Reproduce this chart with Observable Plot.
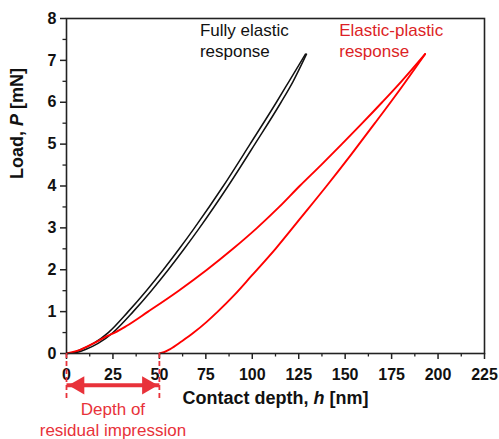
<!DOCTYPE html>
<html>
<head>
<meta charset="utf-8">
<script src="https://cdn.jsdelivr.net/npm/d3@7"></script>
<script src="https://cdn.jsdelivr.net/npm/@observablehq/plot@0.6"></script>
<style>
  html, body { margin: 0; padding: 0; background: #fff; }
  #chart { width: 499px; height: 439px; overflow: hidden; }
</style>
</head>
<body>
<div id="chart"></div>
<script>
// ---- Data ----
// Fully elastic response (two nearly coincident black curves)
const elasticA_h = [0, 4, 8, 14.5, 22.5, 33.2, 43, 52.1, 60.7, 68.9, 84.4, 98.8, 113, 119.8, 128.6];
const elasticA_P = [0, 0.03, 0.1, 0.24, 0.5, 1, 1.5, 2, 2.5, 3, 4, 5, 6, 6.5, 7.15];
const elasticB_h = [0, 6, 10.5, 17, 25, 35.9, 45.7, 54.8, 63.4, 71.6, 87, 101.4, 115.5, 122, 129.2];
const elasticB_P = [0, 0.03, 0.1, 0.24, 0.5, 1, 1.5, 2, 2.5, 3, 4, 5, 6, 6.5, 7.15];

// Elastic-plastic response: loading and unloading (red)
const loading_h = [0, 8, 14.5, 22, 26, 32, 43.9, 60.4, 75.6, 89.6, 102.6, 114.5, 125.5, 137, 148.2, 159.2, 169.9, 180.3, 193];
const loading_P = [0, 0.1, 0.24, 0.42, 0.5, 0.65, 1, 1.5, 2, 2.5, 3, 3.5, 4, 4.5, 5, 5.5, 6, 6.5, 7.15];
const unloading_h = [50, 52.4, 55.6, 62.3, 68.5, 75.3, 81.4, 90.4, 99.3, 112.5, 126.3, 140, 153.2, 166, 179.4, 193];
const unloading_P = [0, 0.03, 0.1, 0.3, 0.5, 0.75, 1, 1.4, 1.84, 2.5, 3.25, 4, 4.75, 5.5, 6.3, 7.15];

// Axes
const xTicks = [0, 25, 50, 75, 100, 125, 150, 175, 200, 225];
const xMinor = [12.5, 37.5, 62.5, 87.5, 112.5, 137.5, 162.5, 187.5, 212.5];
const yTicks = [0, 1, 2, 3, 4, 5, 6, 7, 8];
const yMinor = [0.5, 1.5, 2.5, 3.5, 4.5, 5.5, 6.5, 7.5];
const xLabel = ["Contact depth, ", "h", " [nm]"];
const yLabel = ["Load, ", "P", " [mN]"];

// Annotations
const residual = [0, 50];            // depth of residual impression, nm
const annotLines = ["Depth of", "residual impression"];
const legendElastic = ["Fully elastic", "response"];
const legendPlastic = ["Elastic-plastic", "response"];

// ---- Build tables ----
const zip = (hs, ps) => hs.map((h, i) => ({h, P: ps[i]}));
const elasticA = zip(elasticA_h, elasticA_P);
const elasticB = zip(elasticB_h, elasticB_P);
const loading = zip(loading_h, loading_P);
const unloading = zip(unloading_h, unloading_P);

const RED = "#ff0000";
const TEXTRED = "#dc1f26";
const ANNRED = "#e8323a";
const FONT = "Arial, 'Liberation Sans', Helvetica, sans-serif";
const ARROW_Y = -0.76;

const plot = Plot.plot({
  width: 499,
  height: 439,
  marginLeft: 66,
  marginRight: 15,
  marginTop: 18,
  marginBottom: 86,
  style: {fontFamily: FONT, background: "#fff", color: "#000", overflow: "visible"},
  x: {domain: [0, 225]},
  y: {domain: [0, 8]},
  marks: [
    // curves
    Plot.line(elasticA, {x: "h", y: "P", stroke: "#111", strokeWidth: 1.5, curve: "monotone-x"}),
    Plot.line(elasticB, {x: "h", y: "P", stroke: "#111", strokeWidth: 1.5, curve: "monotone-x"}),
    Plot.line(loading, {x: "h", y: "P", stroke: RED, strokeWidth: 1.9, curve: "monotone-x"}),
    Plot.line(unloading, {x: "h", y: "P", stroke: RED, strokeWidth: 1.9, curve: "monotone-x"}),

    // axes
    Plot.axisX({ticks: xMinor, tickSize: 3.5, tickFormat: () => "", stroke: "#222", strokeWidth: 1.3, label: null}),
    Plot.axisY({ticks: yMinor, tickSize: 3.5, tickFormat: () => "", stroke: "#222", strokeWidth: 1.3, label: null}),
    Plot.axisX({ticks: xTicks, tickSize: 6, tickPadding: 9, fontSize: 16, fontWeight: "bold", fill: "#111",
                stroke: "#222", strokeWidth: 1.5, label: null}),
    Plot.axisY({ticks: yTicks, tickSize: 6, tickPadding: 4, fontSize: 16, fontWeight: "bold", fill: "#111",
                stroke: "#222", strokeWidth: 1.5, label: null}),
    Plot.frame({stroke: "#222", strokeWidth: 1.6}),

    // axis titles
    Plot.text([xLabel.join("")], {frameAnchor: "bottom", dy: 50, fontSize: 18, fontWeight: "bold", fill: "#111"}),
    Plot.text([yLabel.join("")], {frameAnchor: "left", dx: -49, dy: -7, rotate: -90, fontSize: 18, fontWeight: "bold",
               fill: "#111"}),

    // legends
    Plot.text(legendElastic.map((t, i) => ({t, i})), {x: () => 71.8, y: d => 7.71 - d.i * 0.5, text: "t",
               textAnchor: "start", fontSize: 17, fill: "#111"}),
    Plot.text(legendPlastic.map((t, i) => ({t, i})), {x: () => 146.8, y: d => 7.71 - d.i * 0.5, text: "t",
               textAnchor: "start", fontSize: 17, fill: TEXTRED}),

    // residual impression annotation
    Plot.ruleX(residual, {y1: 0, y2: -1.1, stroke: ANNRED, strokeWidth: 1.8, strokeDasharray: "5,3"}),
    Plot.link([residual], {x1: d => d[0], x2: d => d[1], y1: () => ARROW_Y, y2: () => ARROW_Y,
               stroke: ANNRED, strokeWidth: 4}),
    Plot.dot([residual[0]], {x: d => d, y: () => ARROW_Y, symbol: "triangle", rotate: -90, dx: 12.5, r: 6.8,
              fill: ANNRED, stroke: "none"}),
    Plot.dot([residual[1]], {x: d => d, y: () => ARROW_Y, symbol: "triangle", rotate: 90, dx: -12, r: 6.8,
              fill: ANNRED, stroke: "none"}),
    Plot.text(annotLines.map((t, i) => ({t, i})), {x: () => (residual[0] + residual[1]) / 2,
               y: d => -1.35 - d.i * 0.48, text: "t", fontSize: 17, fill: ANNRED})
  ]
});

// Italicise the variable symbols in the axis titles
function styleLabel(parts) {
  const full = parts.join("");
  d3.select(plot).selectAll("text").filter(function () { return this.textContent === full; })
    .each(function () {
      const t = d3.select(this);
      t.text(null);
      parts.forEach((p, i) => {
        const ts = t.append("tspan").text(p);
        if (i === 1) ts.attr("font-style", "italic");
      });
    });
}
styleLabel(xLabel);
styleLabel(yLabel);

document.getElementById("chart").appendChild(plot);
</script>
</body>
</html>
